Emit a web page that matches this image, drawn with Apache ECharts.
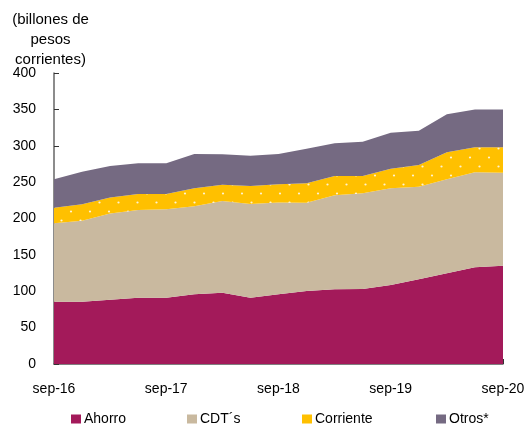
<!DOCTYPE html>
<html><head><meta charset="utf-8">
<script src="https://cdn.jsdelivr.net/npm/echarts@6/dist/echarts.min.js"></script>
<style>html,body{margin:0;padding:0;background:#fff}#c{width:529px;height:425px}</style>
</head><body><div id="c"></div>
<script>
const categories = ['sep-16','dic-16','mar-17','jun-17','sep-17','dic-17','mar-18','jun-18','sep-18','dic-18','mar-19','jun-19','sep-19','dic-19','mar-20','jun-20','sep-20'];
const ahorro    = [85.6, 85.6, 88.4, 91.0, 91.0, 95.8, 98.0, 91.0, 96.0, 100.3, 102.6, 103.0, 108.6, 116.4, 124.6, 132.9, 135.0];
const cdts      = [107.8, 111.4, 118.6, 120.7, 121.6, 121.2, 126.0, 129.0, 126.0, 121.5, 129.4, 131.6, 132.9, 127.4, 129.3, 130.6, 128.0];
const corriente = [21.5, 22.5, 22.0, 22.0, 21.1, 24.5, 22.5, 24.7, 25.0, 26.6, 26.4, 23.8, 27.0, 29.7, 37.1, 34.3, 34.8];
const otros     = [39.0, 44.9, 43.2, 42.1, 42.1, 47.2, 41.8, 41.7, 41.5, 47.6, 44.9, 47.2, 49.5, 47.2, 52.2, 52.2, 52.2];
const yTicks = [0, 50, 100, 150, 200, 250, 300, 350, 400];
const seriesNames = ['Ahorro','CDT´s','Corriente','Otros*'];

const FONT = '"Liberation Sans", Arial, sans-serif';

// dotted pattern for Corriente
const pc = document.createElement('canvas');
pc.width = 19; pc.height = 18;
const ctx = pc.getContext('2d');
ctx.fillStyle = '#FFC000'; ctx.fillRect(0,0,19,18);
ctx.fillStyle = 'rgba(255,245,220,0.95)';
ctx.beginPath(); ctx.arc(4.5,4.5,1.1,0,Math.PI*2); ctx.fill();
ctx.beginPath(); ctx.arc(14,13.5,1.1,0,Math.PI*2); ctx.fill();

const chart = echarts.init(document.getElementById('c'), null, {renderer:'canvas'});
function s(name, data, color, area) {
  return {
    name, type:'line', stack:'total', data, symbol:'none',
    lineStyle:{width:0, color}, itemStyle:{color},
    areaStyle:{color: area || color, opacity:1}
  };
}
const legendLefts = [66, 182, 297, 431];
const legends = seriesNames.map((n, i) => ({
  top: 407, left: legendLefts[i], itemWidth:10, itemHeight:9, icon:'rect',
  textStyle:{fontSize:14, color:'#000', fontFamily:FONT, padding:[0,0,0,-2]},
  data:[n]
}));
chart.setOption({
  animation:false,
  textStyle:{fontFamily:FONT},
  grid:{left:54, right:26, top:73, bottom:61, containLabel:false},
  xAxis:{
    type:'category', data:categories, boundaryGap:false,
    axisLine:{lineStyle:{color:'#555', width:1.5}},
    axisTick:{show:true, inside:true, interval:3, length:5, lineStyle:{color:'#333'}},
    axisLabel:{interval:3, color:'#000', fontSize:14, fontFamily:FONT, margin:18},
    splitLine:{show:false}
  },
  yAxis:{
    type:'value', min:yTicks[0], max:yTicks[yTicks.length-1], interval:50,
    axisLine:{show:true, lineStyle:{color:'#666', width:1.5}},
    axisTick:{show:true, inside:true, length:5, lineStyle:{color:'#333'}},
    axisLabel:{color:'#000', fontSize:14, fontFamily:FONT, margin:18},
    splitLine:{show:false}
  },
  legend: legends,
  graphic:[{
    type:'text', x:50.5, y:10,
    style:{text:'(billones de\npesos\ncorrientes)', fill:'#000', font:'15px '+FONT, textAlign:'center', textVerticalAlign:'top', lineHeight:20}
  }],
  series:[
    s(seriesNames[0], ahorro, '#A31A5A'),
    s(seriesNames[1], cdts, '#C9B99F'),
    s(seriesNames[2], corriente, '#FFC000', {image: pc, repeat:'repeat'}),
    s(seriesNames[3], otros, '#756A82')
  ]
});
</script></body></html>
